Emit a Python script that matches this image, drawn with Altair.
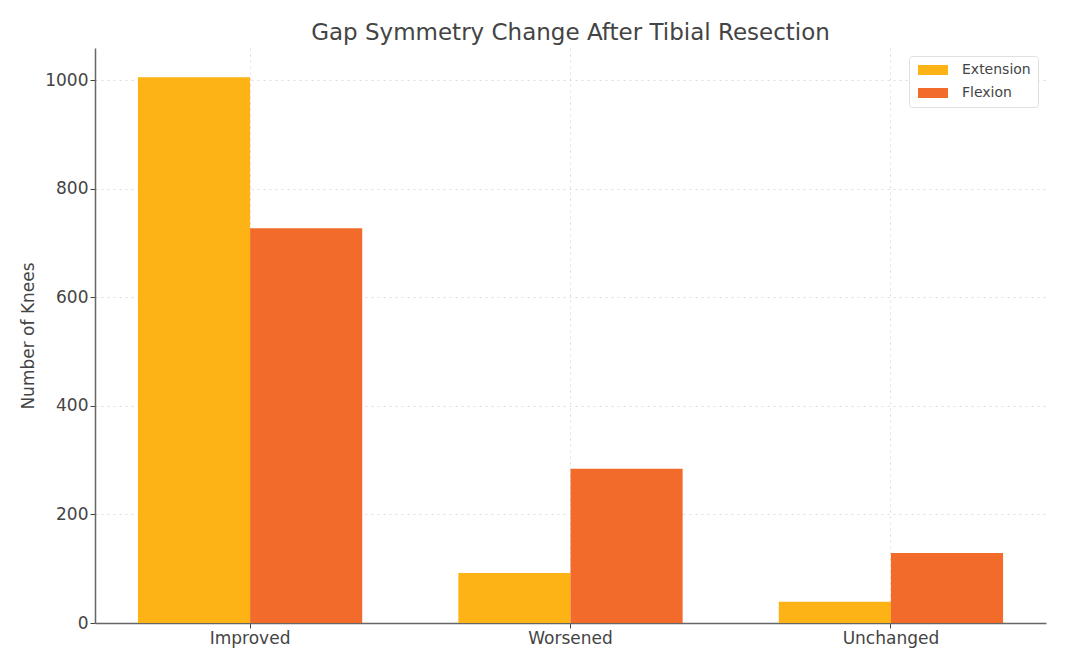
import altair as alt
import pandas as pd

categories = ["Improved", "Worsened", "Unchanged"]
extension = [1005, 92, 39]
flexion = [727, 284, 129]
series = ["Extension", "Flexion"]
colors = ["#FDB216", "#F26B2A"]

rows = []
for c, e, f in zip(categories, extension, flexion):
    rows.append({"category": c, "series": "Extension", "value": e})
    rows.append({"category": c, "series": "Flexion", "value": f})
df = pd.DataFrame(rows)

font = "DejaVu Sans"

chart = alt.Chart(df).mark_bar().encode(
    x=alt.X("category:N", sort=categories, title=None,
            scale=alt.Scale(paddingInner=0.3, paddingOuter=0.134),
            axis=alt.Axis(labelAngle=0, labelFontSize=17, labelColor="#444",
                          labelFont=font, tickSize=5, tickColor="#444",
                          domainColor="#666", domainWidth=1.5,
                          grid=True, gridDash=[2, 4], gridColor="#ddd",
                          labelPadding=2, bandPosition=0.5)),
    xOffset=alt.XOffset("series:N", sort=series,
                        scale=alt.Scale(paddingInner=0, paddingOuter=0)),
    y=alt.Y("value:Q", title="Number of Knees",
            scale=alt.Scale(domain=[0, 1059], nice=False),
            axis=alt.Axis(values=[0, 200, 400, 600, 800, 1000], format="d",
                          labelFontSize=17, labelColor="#444", labelFont=font,
                          labelPadding=2,
                          titleFontSize=17, titleColor="#444", titleFont=font,
                          titleFontWeight="normal", titlePadding=7,
                          tickSize=5, tickColor="#444",
                          domainColor="#666", domainWidth=1.5,
                          grid=True, gridDash=[2, 4], gridColor="#ddd")),
    color=alt.Color("series:N", sort=series,
                    scale=alt.Scale(domain=series, range=colors),
                    legend=alt.Legend(title=None, orient="top-right", offset=8,
                                      labelFontSize=14, labelColor="#444",
                                      labelFont=font,
                                      symbolType="M-1,-1H5V1H-1Z",
                                      symbolSize=100, symbolStrokeWidth=0,
                                      symbolOpacity=1,
                                      rowPadding=9, labelOffset=32,
                                      padding=7, strokeColor="#e0e0e0",
                                      fillColor="white", cornerRadius=3)),
).properties(
    width=951, height=575,
    title=alt.TitleParams("Gap Symmetry Change After Tibial Resection",
                          fontSize=23, font=font, fontWeight="normal",
                          color="#444", anchor="middle", offset=3),
    autosize=alt.AutoSizeParams(type="none"),
    padding={"left": 87, "top": 40, "right": 14, "bottom": 39},
).configure_view(stroke=None)

chart.save("out.html", embed_options={"renderer": "svg", "actions": False})
